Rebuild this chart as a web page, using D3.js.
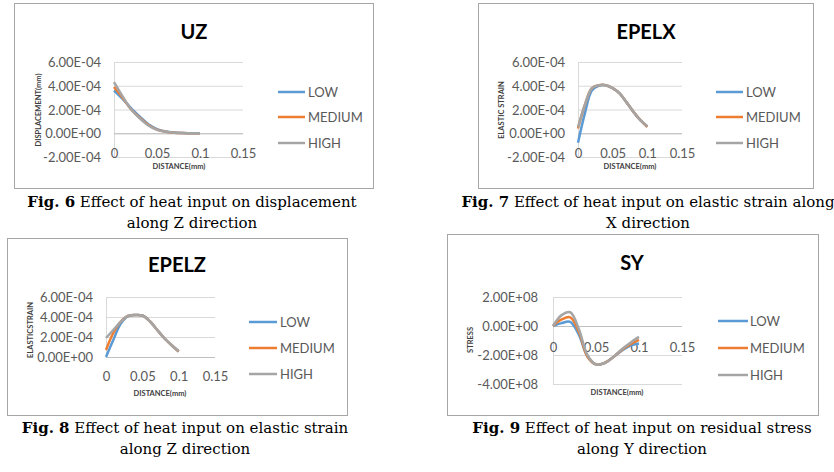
<!DOCTYPE html>
<html>
<head>
<meta charset="utf-8">
<script src="https://cdn.jsdelivr.net/npm/d3@7"></script>
<style>
  body { margin: 0; background: #fff; }
  svg { display: block; }
  .tick-label { font-family: Lato, "Open Sans", sans-serif; font-size: 13px; fill: #595959; }
  .ax-title { font-family: Lato, sans-serif; font-size: 7.5px; font-weight: bold; fill: #404040; }
  .ch-title { font-family: Lato, sans-serif; font-size: 20px; font-weight: bold; fill: #000; }
  .caption { font-family: "DejaVu Serif", serif; font-size: 15px; fill: #000; }
</style>
</head>
<body>
<svg id="fig" width="834" height="472"></svg>
<script>
// distance along path (mm), same for every plot
var distance = [0, 0.01, 0.02, 0.03, 0.04, 0.05, 0.06, 0.07, 0.08, 0.09, 0.1];
var xTicks = [0, 0.05, 0.1, 0.15];
var seriesNames = ["LOW", "MEDIUM", "HIGH"];

// UZ displacement (x1e-4 mm)
var uz_low    = [3.6, 2.9, 2.1, 1.4, 0.75, 0.35, 0.15, 0.06, 0.02, 0.0, 0.0];
var uz_medium = [3.9, 3.0, 2.0, 1.3, 0.7, 0.3, 0.13, 0.05, 0.02, 0.0, 0.0];
var uz_high   = [4.3, 3.1, 2.0, 1.25, 0.65, 0.28, 0.12, 0.05, 0.02, 0.0, 0.0];
var uz_ticks  = [-2e-4, 0, 2e-4, 4e-4, 6e-4];

// EPELX elastic strain (x1e-4)
var epelx_low    = [-0.8, 1.7, 3.6, 4.0, 4.05, 3.8, 3.35, 2.6, 1.8, 1.1, 0.55];
var epelx_medium = [0.4, 2.4, 3.8, 4.05, 4.05, 3.8, 3.35, 2.6, 1.8, 1.1, 0.55];
var epelx_high   = [0.5, 2.4, 3.8, 4.05, 4.05, 3.8, 3.35, 2.6, 1.8, 1.1, 0.6];
var epelx_ticks  = [-2e-4, 0, 2e-4, 4e-4, 6e-4];

// EPELZ elastic strain (x1e-4)
var epelz_low    = [0.0, 1.7, 3.3, 4.05, 4.2, 4.15, 3.6, 2.75, 1.9, 1.2, 0.55];
var epelz_medium = [0.7, 2.4, 3.5, 4.1, 4.2, 4.15, 3.6, 2.75, 1.9, 1.2, 0.55];
var epelz_high   = [1.9, 2.7, 3.5, 4.1, 4.2, 4.15, 3.6, 2.75, 1.9, 1.2, 0.6];
var epelz_ticks  = [0, 2e-4, 4e-4, 6e-4];

// SY stress (x1e8)
var sy_low    = [0, 0.2, 0.28, -0.6, -2.1, -2.65, -2.55, -2.15, -1.7, -1.35, -1.2];
var sy_medium = [0, 0.45, 0.6, -0.4, -2.1, -2.65, -2.55, -2.15, -1.65, -1.25, -0.95];
var sy_high   = [0, 0.75, 0.95, -0.2, -2.0, -2.65, -2.55, -2.15, -1.6, -1.15, -0.75];
var sy_ticks  = [-4e8, -2e8, 0, 2e8];

var colors = ["#5b9bd5", "#ed7d31", "#a5a5a5"];

function sci(v) {
	if (v === 0) return "0.00E+00";
	var e = Math.floor(Math.log10(Math.abs(v)) + 1e-9);
	var m = v / Math.pow(10, e);
	return m.toFixed(2) + "E" + (e < 0 ? "-" : "+") + String(Math.abs(e)).padStart(2, "0");
}

var svg = d3.select("#fig");

function drawChart(c) {
	var g = svg.append("g");

	g.append("rect")
		.attr("x", c.box[0] + 0.5).attr("y", c.box[1] + 0.5)
		.attr("width", c.box[2]).attr("height", c.box[3])
		.attr("fill", "#fff").attr("stroke", "#a6a6a6");

	var x = d3.scaleLinear().domain([0, 0.15]).range(c.xr);
	var y = d3.scaleLinear().domain(d3.extent(c.yTicks)).range(c.yr);

	// gridlines
	g.append("g")
		.attr("transform", "translate(" + c.xr[0] + ",0)")
		.call(d3.axisRight(y).tickValues(c.yTicks).tickSize(c.xr[1] - c.xr[0]).tickFormat(""))
		.call(function (s) {
			s.select(".domain").remove();
			s.selectAll("line").attr("stroke", "#d9d9d9");
		});

	// y axis line
	g.append("line")
		.attr("x1", c.xr[0] + 0.5).attr("x2", c.xr[0] + 0.5)
		.attr("y1", c.yr[1]).attr("y2", c.yr[0])
		.attr("stroke", "#d9d9d9");

	// y tick labels
	g.append("g")
		.attr("transform", "translate(" + c.yLabX + ",0)")
		.call(d3.axisLeft(y).tickValues(c.yTicks).tickSize(0).tickPadding(0).tickFormat(sci))
		.call(function (s) {
			s.select(".domain").remove();
			s.selectAll("text").attr("class", "tick-label").attr("dy", "0.35em");
		});

	// x axis line at zero and tick labels
	g.append("line")
		.attr("x1", c.xr[0]).attr("x2", c.xr[1])
		.attr("y1", y(0) + 0.5).attr("y2", y(0) + 0.5)
		.attr("stroke", "#bfbfbf");

	g.append("g")
		.attr("transform", "translate(0," + c.xLabY + ")")
		.call(d3.axisBottom(x).tickValues(xTicks).tickSize(0).tickPadding(0).tickFormat(d3.format("")))
		.call(function (s) {
			s.select(".domain").remove();
			s.selectAll("text").attr("class", "tick-label").attr("dy", "0.35em");
		});

	// series
	var line = d3.line()
		.x(function (d, i) { return x(distance[i]); })
		.y(function (d) { return y(d * c.unit); })
		.curve(d3.curveCatmullRom.alpha(0.5));

	g.selectAll("path.series").data(c.series).enter().append("path")
		.attr("class", "series")
		.attr("d", line)
		.attr("fill", "none")
		.attr("stroke", function (d, i) { return colors[i]; })
		.attr("stroke-width", 2.5)
		.attr("stroke-linejoin", "round");

	// title
	g.append("text").attr("class", "ch-title")
		.attr("x", c.title[0]).attr("y", c.title[1])
		.attr("text-anchor", "middle").attr("dy", "0.35em")
		.text(c.name);

	// axis titles
	g.append("text").attr("class", "ax-title")
		.attr("x", c.xTitle[0]).attr("y", c.xTitle[1])
		.attr("text-anchor", "middle").attr("dy", "0.35em")
		.text("DISTANCE(mm)");

	g.append("text").attr("class", "ax-title")
		.attr("transform", "translate(" + c.yTitle[0] + "," + c.yTitle[1] + ") rotate(-90)")
		.attr("text-anchor", "middle").attr("dy", "0.35em")
		.text(c.yName);

	// legend
	var leg = g.selectAll("g.leg").data(seriesNames).enter().append("g")
		.attr("transform", function (d, i) { return "translate(0," + c.legY[i] + ")"; });
	leg.append("line")
		.attr("x1", c.legX[0]).attr("x2", c.legX[1])
		.attr("stroke", function (d, i) { return colors[i]; })
		.attr("stroke-width", 2.5);
	leg.append("text").attr("class", "tick-label")
		.attr("x", c.legX[2]).attr("dy", "0.35em")
		.text(function (d) { return d; });

	// caption
	var cap = g.append("text").attr("class", "caption").attr("text-anchor", "middle");
	var t1 = cap.append("tspan").attr("x", c.cap[0]).attr("y", c.cap[1]);
	t1.append("tspan").attr("font-weight", "bold").text(c.capBold);
	t1.append("tspan").text(" " + c.capText[0]);
	cap.append("tspan").attr("x", c.cap[0]).attr("y", c.cap[1] + 21).text(c.capText[1]);
}

drawChart({
	name: "UZ", yName: "DISPLACEMENT(mm)", unit: 1e-4,
	series: [uz_low, uz_medium, uz_high], yTicks: uz_ticks,
	box: [14, 3, 359, 185], xr: [114, 243], yr: [157, 62],
	yLabX: 101, xLabY: 153, title: [194, 32], xTitle: [179, 166], yTitle: [38, 110],
	legX: [278, 305, 308], legY: [92, 117, 143],
	cap: [192, 207], capBold: "Fig. 6", capText: ["Effect of heat input on displacement", "along Z direction"]
});

drawChart({
	name: "EPELX", yName: "ELASTIC STRAIN", unit: 1e-4,
	series: [epelx_low, epelx_medium, epelx_high], yTicks: epelx_ticks,
	box: [478, 3, 335, 185], xr: [578, 682], yr: [157, 62],
	yLabX: 565, xLabY: 153, title: [646, 32], xTitle: [630, 166], yTitle: [501, 110],
	legX: [716, 743, 746], legY: [92, 117, 143],
	cap: [648, 207], capBold: "Fig. 7", capText: ["Effect of heat input on elastic strain along", "X direction"]
});

drawChart({
	name: "EPELZ", yName: "ELASTICSTRAIN", unit: 1e-4,
	series: [epelz_low, epelz_medium, epelz_high], yTicks: epelz_ticks,
	box: [7, 238, 340, 177], xr: [106, 215], yr: [357, 297],
	yLabX: 93, xLabY: 376, title: [177, 265], xTitle: [160, 393], yTitle: [30, 330],
	legX: [249, 277, 280], legY: [322, 348, 374],
	cap: [185, 433], capBold: "Fig. 8", capText: ["Effect of heat input on elastic strain", "along Z direction"]
});

drawChart({
	name: "SY", yName: "STRESS", unit: 1e8,
	series: [sy_low, sy_medium, sy_high], yTicks: sy_ticks,
	box: [447, 234, 371, 181], xr: [553, 682], yr: [384, 297],
	yLabX: 538, xLabY: 347, title: [632, 263], xTitle: [617, 392], yTitle: [470, 340],
	legX: [718, 748, 750], legY: [321, 348, 375],
	cap: [642, 433], capBold: "Fig. 9", capText: ["Effect of heat input on residual stress", "along Y direction"]
});
</script>
</body>
</html>
